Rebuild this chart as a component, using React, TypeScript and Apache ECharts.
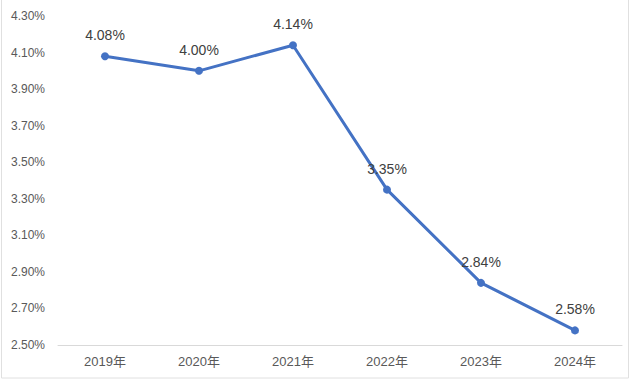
import React, { useEffect, useRef } from "react";
import * as echarts from "echarts";

const categories = ["2019年", "2020年", "2021年", "2022年", "2023年", "2024年"];
const rates = [4.08, 4.0, 4.14, 3.35, 2.84, 2.58];
const axisMin = 2.5;
const axisMax = 4.3;
const axisStep = 0.2;

export default function App() {
  const ref = useRef<HTMLDivElement>(null);
  useEffect(() => {
    if (!ref.current) return;
    const chart = echarts.init(ref.current, undefined, { renderer: "svg" });
    const font = "'Liberation Sans', 'Noto Sans CJK SC', sans-serif";
    chart.setOption({
      animation: false,
      backgroundColor: "#ffffff",
      grid: { left: 58, right: 18, top: 16, bottom: 38 },
      graphic: [
        {
          type: "rect",
          shape: { x: 1.5, y: -2, width: 627, height: 380 },
          style: { fill: "none", stroke: "#e0e0e0", lineWidth: 1 },
          silent: true,
        },
      ],
      xAxis: {
        type: "category",
        data: categories,
        boundaryGap: true,
        axisLine: { lineStyle: { color: "#d9d9d9", width: 1 } },
        axisTick: { show: false },
        axisLabel: { color: "#595959", fontSize: 13, margin: 10, fontFamily: font },
      },
      yAxis: {
        type: "value",
        min: 0,
        max: axisMax - axisMin,
        interval: axisStep,
        axisLine: { show: false },
        axisTick: { show: false },
        splitLine: { show: false },
        axisLabel: {
          color: "#595959",
          fontSize: 12,
          margin: 13,
          fontFamily: font,
          formatter: (v: number) => (v + axisMin).toFixed(2) + "%",
        },
      },
      series: [
        {
          type: "line",
          data: rates.map((r) => +(r - axisMin).toFixed(4)),
          symbol: "circle",
          symbolSize: 8,
          lineStyle: { color: "#4472C4", width: 3 },
          itemStyle: { color: "#4472C4" },
          label: {
            show: true,
            position: "top",
            distance: 10,
            color: "#404040",
            fontSize: 14,
            fontFamily: font,
            formatter: (p: any) => rates[p.dataIndex].toFixed(2) + "%",
          },
        },
      ],
    });
    return () => chart.dispose();
  }, []);
  return (
    <div
      ref={ref}
      style={{ position: "fixed", left: 0, top: 0, width: 640, height: 383 }}
    />
  );
}
